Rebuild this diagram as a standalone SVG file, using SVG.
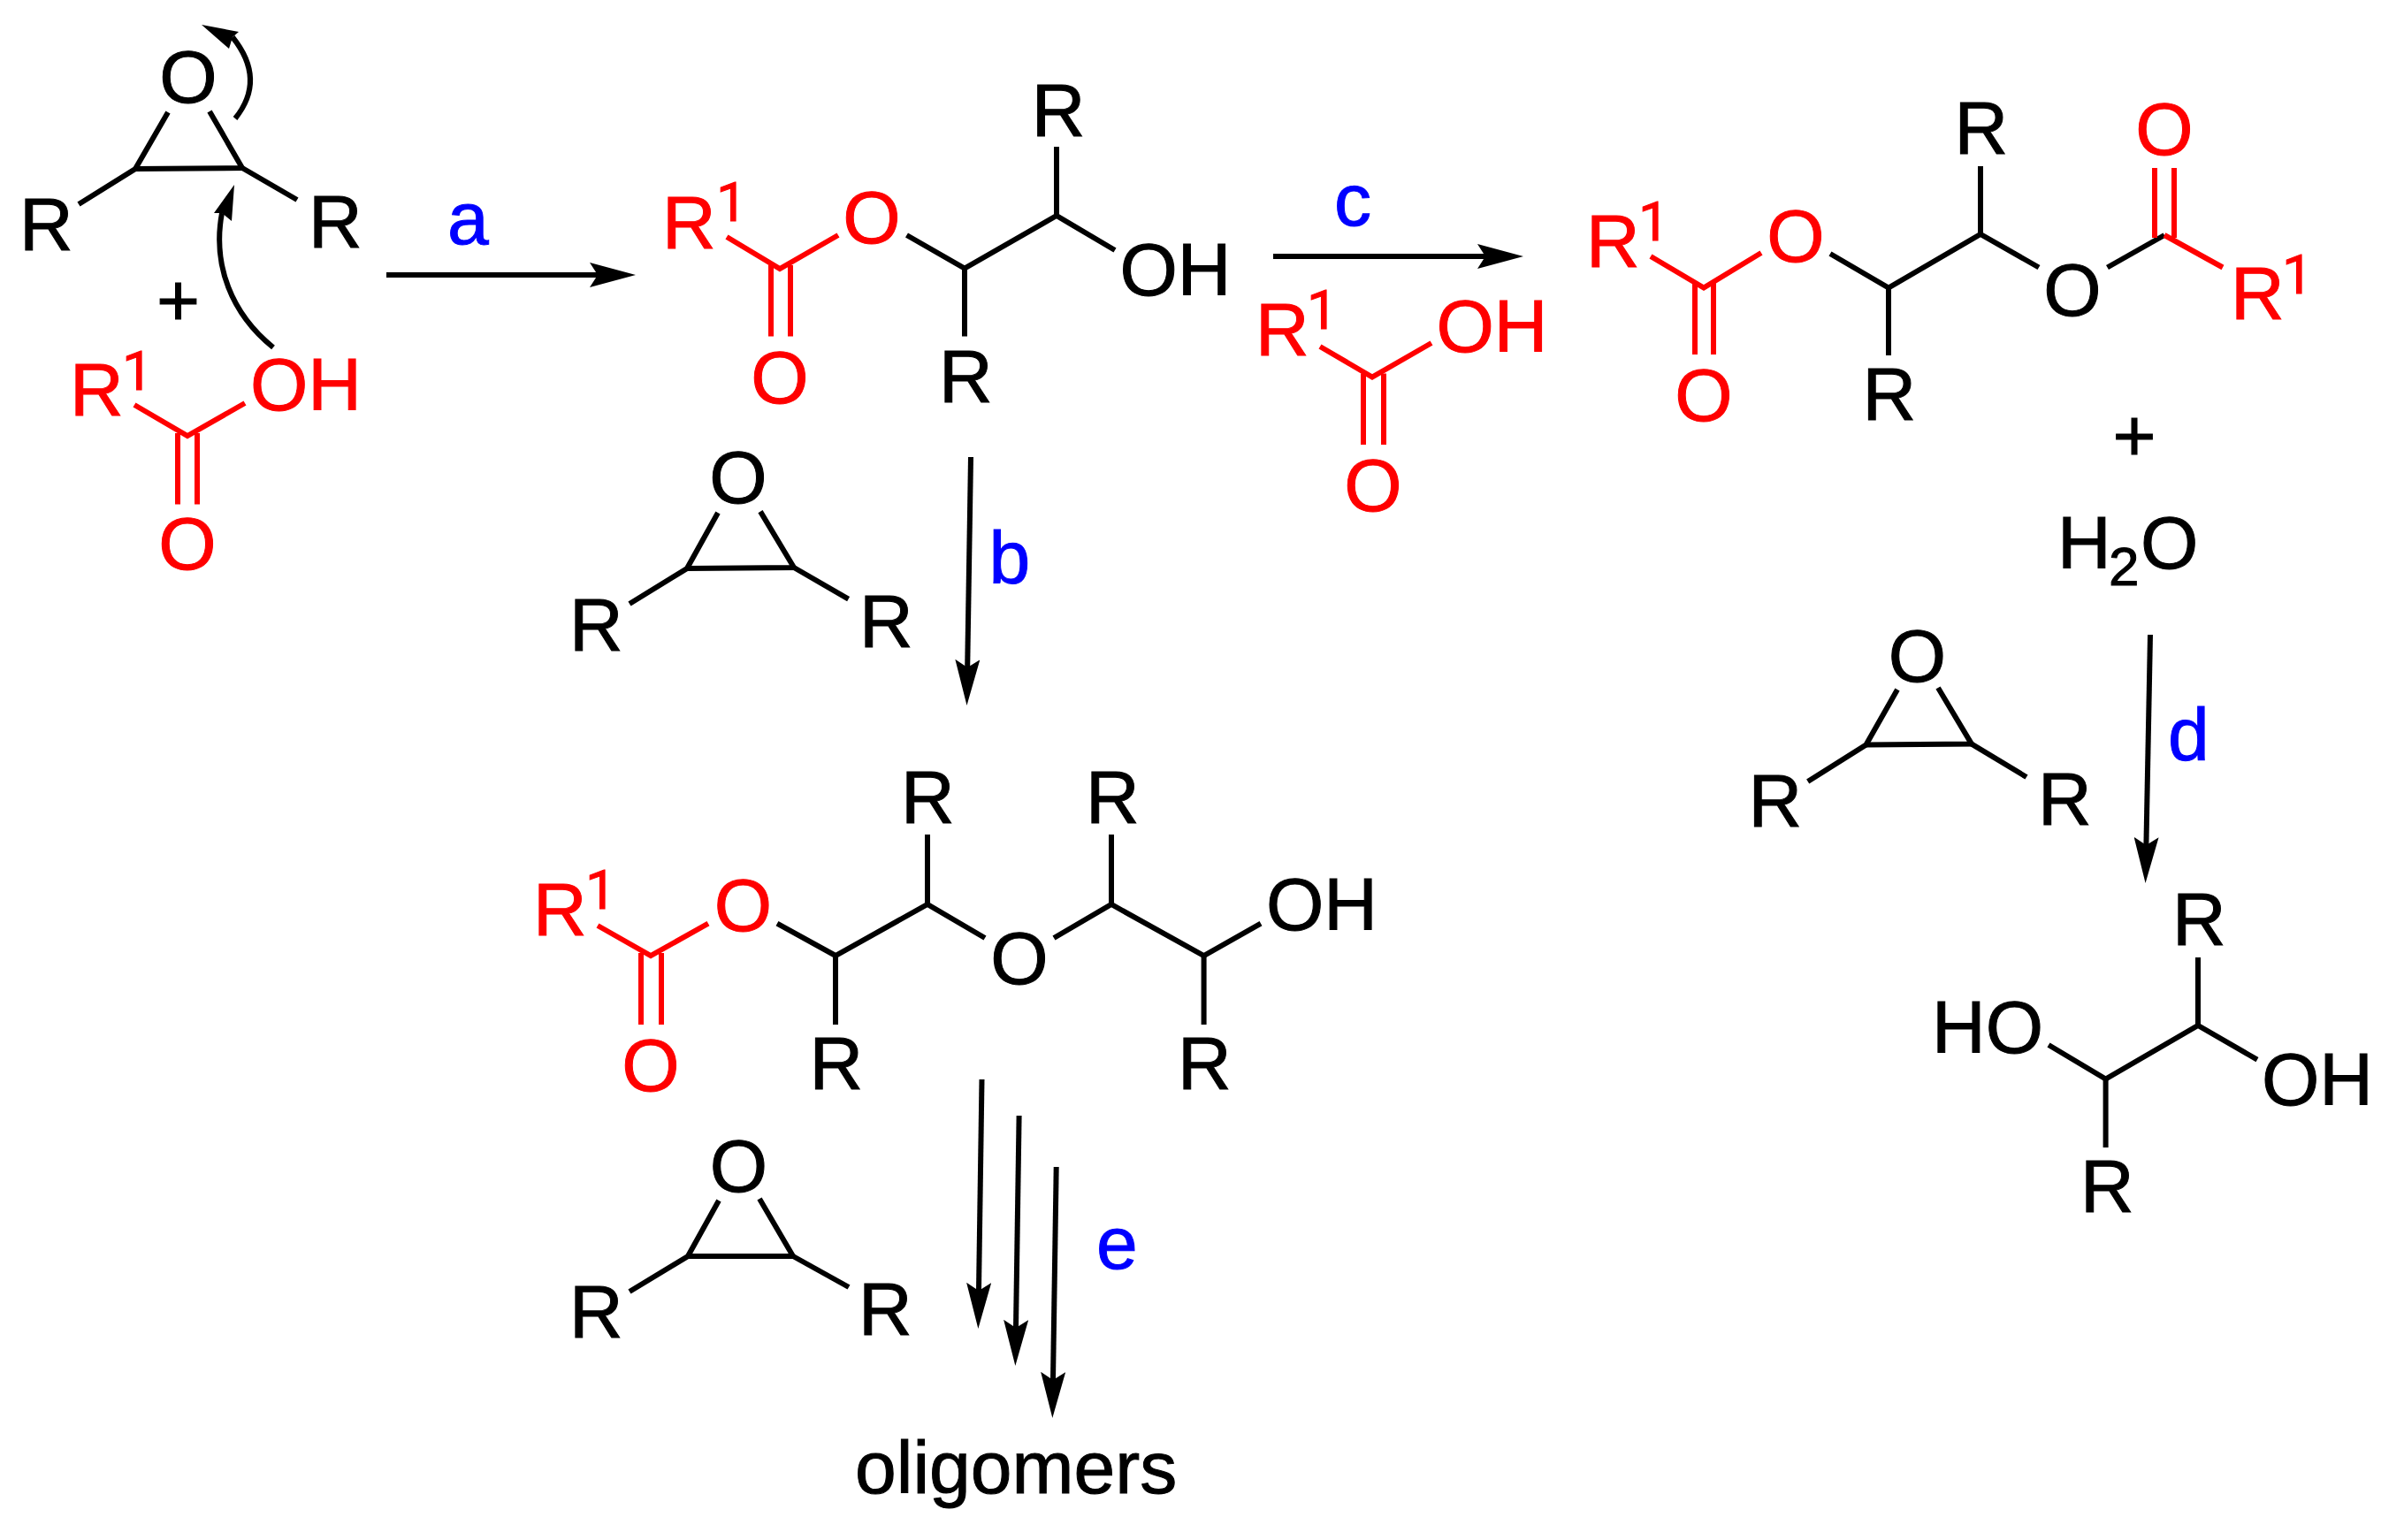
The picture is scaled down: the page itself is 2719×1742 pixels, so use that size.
<svg xmlns="http://www.w3.org/2000/svg" width="2719" height="1742" viewBox="0 0 2719 1742">
<defs>
<style>
text{font-family:"Liberation Sans",Arial,sans-serif;font-size:84px;fill:#000;stroke:#000;stroke-width:1}
.r{fill:#f00;stroke:#f00}
.l{fill:#00f;stroke:#00f}
.m{text-anchor:middle}
.s{font-size:62px}
.u{font-size:62px;font-family:Roboto,"Liberation Sans",sans-serif}
.b{fill:none;stroke:#000;stroke-width:6}
.br{fill:none;stroke:#f00;stroke-width:6}
.c{fill:none;stroke:#000;stroke-width:6}
.h{fill:#000}
</style>
<marker id="ah" markerUnits="userSpaceOnUse" markerWidth="54" markerHeight="28" viewBox="0 0 54 28" refX="9" refY="14" orient="auto"><path d="M0 0L52 14L0 28L9 14Z" fill="#000"/></marker>
</defs>
<rect width="2719" height="1742" fill="#fff"/>
<g id="connectors">
<path class="c" marker-end="url(#ah)" d="M437 311L676 311"/>
<path class="c" marker-end="url(#ah)" d="M1440 290L1680 290"/>
<path class="c" marker-end="url(#ah)" d="M1098 517L1094.2 755"/>
<path class="c" marker-end="url(#ah)" d="M2432 718L2427.4 956"/>
<path class="c" marker-end="url(#ah)" d="M1110.5 1221L1107 1460"/>
<path class="c" marker-end="url(#ah)" d="M1152.6 1262L1149 1502"/>
<path class="c" marker-end="url(#ah)" d="M1194.7 1320L1191 1561"/>
<path class="c" d="M266 134Q301.5 90 263 42"/>
<polygon class="h" points="228,28 270,36 263,42 259,55"/>
<path class="c" d="M309 393C262 355 240 300 251 241"/>
<polygon class="h" points="265,209 262,250 251,241 242,241"/>
</g>
<g id="epoxide-1">
<polyline class="b" points="89,231 153,191 190,127"/>
<polyline class="b" points="153,191 274,190 237,126"/>
<polyline class="b" points="274,190 336,226"/>
<text class="m" x="213" y="116">O</text>
<text x="22" y="283">R</text>
<text x="349" y="280">R</text>
</g>
<text id="plus-1" class="m" x="201.5" y="368">+</text>
<g id="acid-1">
<polyline class="br" points="152,458 212,493 277,456"/>
<path class="br" d="M201 490V570.5M223 490V570.5"/>
<text class="r" x="79" y="470">R<tspan class="u" x="138" y="441">1</tspan></text>
<text class="r" x="283" y="464">OH</text>
<text class="r m" x="212" y="644">O</text>
</g>
<text id="label-a" class="l" x="506" y="276">a</text>
<g id="hydroxy-ester">
<polyline class="br" points="822,268 882,304 948,266"/>
<path class="br" d="M872 300V380.6M894 300V380.6"/>
<polyline class="b" points="1025.5,266 1091,303.6 1195,244 1261,283"/>
<path class="b" d="M1195 244V166M1091 303.6V380.6"/>
<text class="r" x="749" y="280.6">R<tspan class="u" x="810" y="250">1</tspan></text>
<text class="r m" x="986" y="275">O</text>
<text class="r m" x="882" y="456">O</text>
<text class="m" x="1197" y="153.6">R</text>
<text x="1062" y="454.6">R</text>
<text x="1266.5" y="334">OH</text>
</g>
<text id="label-c" class="l" x="1509" y="255">c</text>
<g id="acid-2">
<polyline class="br" points="1493,392 1552,426.5 1619,388"/>
<path class="br" d="M1542 422.4V503M1565 422.4V503"/>
<text class="r" x="1420" y="402">R<tspan class="u" x="1478" y="372">1</tspan></text>
<text class="r" x="1624.5" y="397.5">OH</text>
<text class="r m" x="1553" y="578">O</text>
</g>
<text id="label-b" class="l" x="1118.5" y="660">b</text>
<g id="epoxide-2">
<polyline class="b" points="712,683 777,643 812,580"/>
<polyline class="b" points="777,643 898,642 860,578.6"/>
<polyline class="b" points="898,642 959.6,677.6"/>
<text class="m" x="835" y="569">O</text>
<text x="644" y="736">R</text>
<text x="972" y="732">R</text>
</g>
<g id="diester">
<polyline class="br" points="1867,290 1927,325.5 1992,286"/>
<path class="br" d="M1917 320V401M1938 320V401"/>
<polyline class="b" points="2070,287 2136,325.5 2240,265 2306,302.5"/>
<path class="b" d="M2240 265V188M2136 325.5V402"/>
<polyline class="b" points="2383.5,302.5 2448,266"/>
<polyline class="br" points="2448,266 2514,302.5"/>
<path class="br" d="M2437 269V190M2459 269V190"/>
<text class="r" x="1794" y="301.5">R<tspan class="u" x="1853" y="272">1</tspan></text>
<text class="r m" x="2031" y="296">O</text>
<text class="r m" x="1927" y="476">O</text>
<text x="2106.5" y="475">R</text>
<text x="2210.5" y="173.5">R</text>
<text class="m" x="2344" y="357">O</text>
<text class="r m" x="2448" y="175">O</text>
<text class="r" x="2523" y="361">R<tspan class="u" x="2581" y="332">1</tspan></text>
</g>
<text id="plus-2" class="m" x="2414" y="521">+</text>
<text id="water" x="2327" y="643">H<tspan class="s" x="2385" y="662">2</tspan><tspan x="2421" y="643">O</tspan></text>
<g id="epoxide-3">
<polyline class="b" points="2044.7,884 2110.5,842.6 2146,780"/>
<polyline class="b" points="2110.5,842.6 2230,841.6 2192,778"/>
<polyline class="b" points="2230,841.6 2292,879"/>
<text class="m" x="2168.5" y="771">O</text>
<text x="1977.5" y="935">R</text>
<text x="2305" y="932.5">R</text>
</g>
<text id="label-d" class="l" x="2452" y="860">d</text>
<g id="diol">
<polyline class="b" points="2317,1182 2381.6,1220.6 2486,1160 2553,1198.6"/>
<path class="b" d="M2486 1160V1083M2381.6 1220.6V1298"/>
<text x="2457" y="1069.4">R</text>
<text x="2353" y="1371">R</text>
<text x="2185" y="1191">HO</text>
<text x="2558" y="1250">OH</text>
</g>
<g id="ether-product">
<polyline class="br" points="676,1047 736,1081 801,1044.6"/>
<path class="br" d="M725 1078V1159M748 1078V1159"/>
<polyline class="b" points="879,1044.6 945,1081 1049,1023 1114,1061"/>
<path class="b" d="M1049 1023V944M945 1081V1159"/>
<polyline class="b" points="1192,1061 1257,1023 1361.6,1081 1426,1044.6"/>
<path class="b" d="M1257 1023V944M1361.6 1081V1159"/>
<text class="r" x="603" y="1058.4">R<tspan class="u" x="662" y="1028">1</tspan></text>
<text class="r m" x="840.4" y="1053">O</text>
<text class="r m" x="736" y="1234">O</text>
<text x="1019" y="931">R</text>
<text x="915.5" y="1231.5">R</text>
<text class="m" x="1153" y="1113">O</text>
<text x="1228" y="931">R</text>
<text x="1432" y="1052.4">OH</text>
<text x="1332" y="1231.5">R</text>
</g>
<g id="epoxide-4">
<polyline class="b" points="712,1461 778,1421 813,1358"/>
<polyline class="b" points="778,1421 897,1421 859,1356"/>
<polyline class="b" points="897,1421 960,1456"/>
<text class="m" x="835.5" y="1348">O</text>
<text x="644" y="1513">R</text>
<text x="971" y="1510">R</text>
</g>
<text id="label-e" class="l" x="1240" y="1435">e</text>
<text id="oligomers" x="967" y="1689">oligomers</text>
</svg>
